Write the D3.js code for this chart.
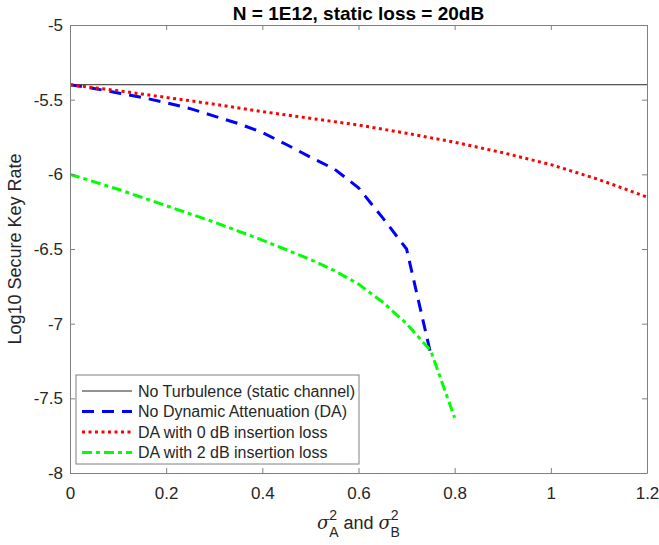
<!DOCTYPE html>
<html>
<head>
<meta charset="utf-8">
<script src="https://cdn.jsdelivr.net/npm/d3@7"></script>
<style>
  body { margin: 0; background: #fff; }
  text { font-family: "Liberation Sans", Arial, sans-serif; fill: #262626; }
</style>
</head>
<body>
<svg id="chart" width="659" height="545"></svg>
<script>
// ------- data -------
var xTicks = [0, 0.2, 0.4, 0.6, 0.8, 1, 1.2];
var yTicks = [-8, -7.5, -7, -6.5, -6, -5.5, -5];

var staticX = [0, 1.2];
var staticY = [-5.4, -5.4];

var noDaX = [0, 0.05, 0.1, 0.15, 0.2, 0.25, 0.3, 0.35, 0.4, 0.45, 0.5, 0.55, 0.6, 0.65, 0.7, 0.75];
var noDaY = [-5.4, -5.425, -5.455, -5.485, -5.52, -5.56, -5.61, -5.66, -5.72, -5.8, -5.885, -5.965, -6.09, -6.29, -6.5, -7.2];

var da0X = [0, 0.1, 0.2, 0.3, 0.4, 0.5, 0.6, 0.7, 0.8, 0.9, 1.0, 1.1, 1.2];
var da0Y = [-5.4, -5.44, -5.485, -5.53, -5.58, -5.625, -5.67, -5.725, -5.785, -5.855, -5.935, -6.035, -6.152];

var da2X = [0, 0.05, 0.1, 0.15, 0.2, 0.25, 0.3, 0.35, 0.4, 0.45, 0.5, 0.55, 0.6, 0.65, 0.7, 0.75, 0.8];
var da2Y = [-6.0, -6.05, -6.1, -6.155, -6.21, -6.265, -6.32, -6.38, -6.44, -6.505, -6.57, -6.645, -6.735, -6.855, -7.0, -7.18, -7.63];

var legendLabels = [
    "No Turbulence (static channel)",
    "No Dynamic Attenuation (DA)",
    "DA with 0 dB insertion loss",
    "DA with 2 dB insertion loss"
];

// ------- layout -------
var plotLeft = 70, plotRight = 647, plotTop = 25, plotBottom = 473;
var axisColor = "#808080";

var svg = d3.select("#chart");

var x = d3.scaleLinear().domain([0, 1.2]).range([plotLeft, plotRight]);
var y = d3.scaleLinear().domain([-8, -5]).range([plotBottom, plotTop]);

var series = [
    { xs: staticX, ys: staticY, color: "#262626", width: 1, dash: null },
    { xs: noDaX, ys: noDaY, color: "#0000ff", width: 3, dash: "12,8" },
    { xs: da0X, ys: da0Y, color: "#ff0000", width: 3, dash: "3,3.5" },
    { xs: da2X, ys: da2Y, color: "#00ff00", width: 3, dash: "10,4,4,4" }
];

var line = d3.line()
    .x(function (d) { return x(d[0]); })
    .y(function (d) { return y(d[1]); });

var plot = svg.append("g");
plot.append("clipPath").attr("id", "clip")
    .append("rect")
    .attr("x", plotLeft).attr("y", plotTop)
    .attr("width", plotRight - plotLeft).attr("height", plotBottom - plotTop);

series.forEach(function (s) {
    var pts = s.xs.map(function (v, i) { return [v, s.ys[i]]; });
    plot.append("path")
        .attr("d", line(pts))
        .attr("clip-path", "url(#clip)")
        .attr("fill", "none")
        .attr("stroke", s.color)
        .attr("stroke-width", s.width)
        .attr("stroke-dasharray", s.dash);
});

// ------- axes (MATLAB style box with inward ticks) -------
var fmt = function (d) { return String(d); };

svg.append("g")
    .attr("transform", "translate(0," + plotBottom + ")")
    .call(d3.axisBottom(x).tickValues(xTicks).tickFormat(fmt).tickSizeInner(-5).tickSizeOuter(0).tickPadding(14))
    .call(function (g) {
        g.select(".domain").attr("stroke", axisColor);
        g.selectAll(".tick line").attr("stroke", axisColor);
        g.selectAll("text").style("font-size", "17px").style("fill", "#262626");
    });

svg.append("g")
    .attr("transform", "translate(0," + plotTop + ")")
    .call(d3.axisTop(x).tickValues(xTicks).tickFormat("").tickSizeInner(-5).tickSizeOuter(0))
    .call(function (g) {
        g.select(".domain").attr("stroke", axisColor);
        g.selectAll(".tick line").attr("stroke", axisColor);
    });

svg.append("g")
    .attr("transform", "translate(" + plotLeft + ",0)")
    .call(d3.axisLeft(y).tickValues(yTicks).tickFormat(fmt).tickSizeInner(-5).tickSizeOuter(0).tickPadding(7))
    .call(function (g) {
        g.select(".domain").attr("stroke", axisColor);
        g.selectAll(".tick line").attr("stroke", axisColor);
        g.selectAll("text").style("font-size", "17px").style("fill", "#262626");
    });

svg.append("g")
    .attr("transform", "translate(" + plotRight + ",0)")
    .call(d3.axisRight(y).tickValues(yTicks).tickFormat("").tickSizeInner(-5).tickSizeOuter(0))
    .call(function (g) {
        g.select(".domain").attr("stroke", axisColor);
        g.selectAll(".tick line").attr("stroke", axisColor);
    });

// ------- title and labels -------
svg.append("text")
    .attr("x", (plotLeft + plotRight) / 2)
    .attr("y", 20)
    .attr("text-anchor", "middle")
    .style("font-size", "19px")
    .style("font-weight", "bold")
    .style("fill", "#000")
    .text("N = 1E12, static loss = 20dB");

svg.append("text")
    .attr("transform", "translate(21," + ((plotTop + plotBottom) / 2) + ") rotate(-90)")
    .attr("text-anchor", "middle")
    .style("font-size", "18px")
    .text("Log10 Secure Key Rate");

var xl = svg.append("text")
    .attr("x", (plotLeft + plotRight) / 2)
    .attr("y", 529)
    .attr("text-anchor", "middle")
    .style("font-size", "18px");
xl.append("tspan").style("font-family", "'DejaVu Serif', serif").style("font-style", "italic").text("σ");
xl.append("tspan").attr("dy", -9).style("font-size", "14px").text("2");
xl.append("tspan").attr("dx", -8).attr("dy", 17).style("font-size", "14px").text("A");
xl.append("tspan").attr("dy", -8).text(" and ");
xl.append("tspan").style("font-family", "'DejaVu Serif', serif").style("font-style", "italic").text("σ");
xl.append("tspan").attr("dy", -9).style("font-size", "14px").text("2");
xl.append("tspan").attr("dx", -8).attr("dy", 17).style("font-size", "14px").text("B");

// ------- legend -------
var lg = svg.append("g").attr("transform", "translate(76,375)");
lg.append("rect")
    .attr("width", 283).attr("height", 89)
    .attr("fill", "#fff")
    .attr("stroke", axisColor)
    .attr("stroke-width", 1);

legendLabels.forEach(function (name, i) {
    var s = series[i];
    var cy = 16 + i * 20.5;
    lg.append("line")
        .attr("x1", 6).attr("x2", 56)
        .attr("y1", cy).attr("y2", cy)
        .attr("stroke", s.color)
        .attr("stroke-width", s.width)
        .attr("stroke-dasharray", s.dash);
    lg.append("text")
        .attr("x", 62).attr("y", cy + 5.5)
        .style("font-size", "16px")
        .text(name);
});
</script>
</body>
</html>
